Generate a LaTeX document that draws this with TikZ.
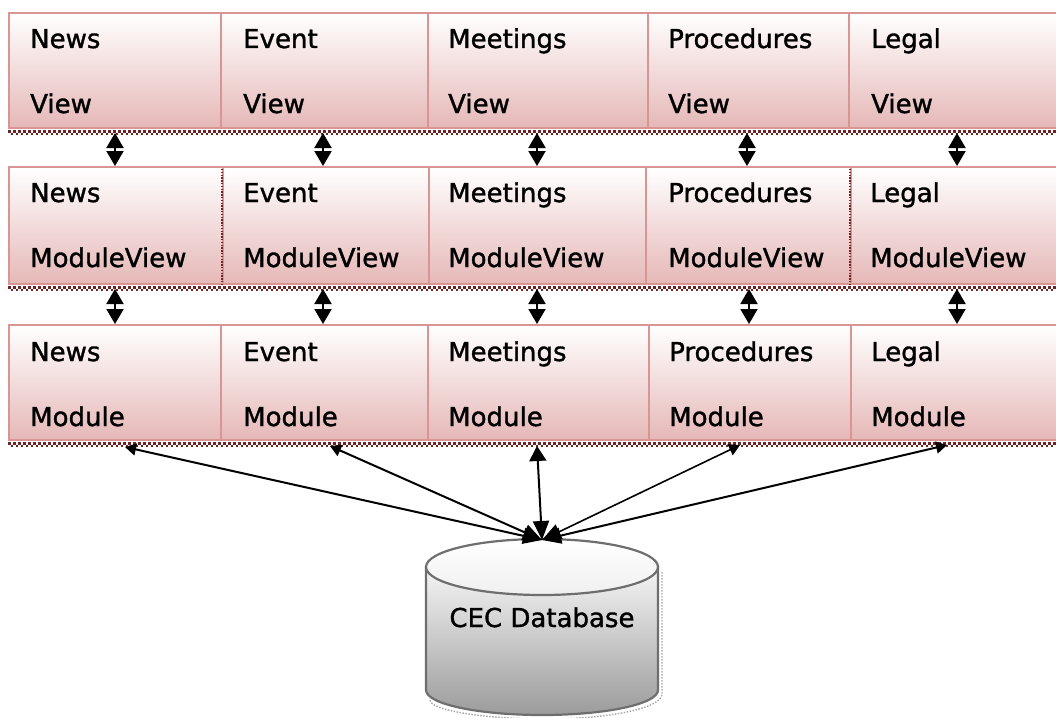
\documentclass[tikz,border=0pt]{standalone}
\usepackage{fontspec}
\setmainfont{DejaVu Sans}[RawFeature={embolden=1.3}]
\usetikzlibrary{arrows.meta,calc}
\definecolor{boxborder}{HTML}{D99594}
\definecolor{boxpink}{HTML}{E5B8B7}
\definecolor{shadowred}{HTML}{6E2424}
\definecolor{dbline}{HTML}{6E6E6E}
\tikzset{
  box/.style={draw=boxborder, line width=2pt, top color=white, bottom color=boxpink,
    middle color=boxpink!50, shading angle=0, rectangle, minimum height=115pt,
    inner sep=0pt, anchor=north west},
  lbl/.style={font=\fontsize{26}{30}\selectfont, anchor=base west, inner sep=0pt},
  checkA/.style={shadowred, line width=2.5pt, dash pattern=on 2.5pt off 2.5pt},
  checkB/.style={shadowred, line width=2.5pt, dash pattern=on 2.5pt off 2.5pt, dash phase=2.5pt},
  vlink/.style={line width=2pt, {Triangle[length=15pt,width=17pt]}-{Triangle[length=15pt,width=17pt]}},
  dblink/.style={line width=2pt, {Triangle[length=11pt,width=12pt]}-{Triangle[length=19pt,width=16pt]}},
}
\begin{document}
\begin{tikzpicture}[x=1pt,y=-1pt]
\useasboundingbox (0,0) rectangle (1056,717);
% Row 1
\node[box, minimum width=212pt] (v1) at (8,12) {};
\node[box, minimum width=207pt] (v2) at (220,12) {};
\node[box, minimum width=220pt] (v3) at (427,12) {};
\node[box, minimum width=201pt] (v4) at (647,12) {};
\node[box, minimum width=215pt] (v5) at (848,12) {};
% Row 2
\node[box, minimum width=214pt, minimum height=117pt] (mv1) at (8,166) {};
\node[box, minimum width=206pt, minimum height=117pt] (mv2) at (222,166) {};
\node[box, minimum width=217pt, minimum height=117pt] (mv3) at (428,166) {};
\node[box, minimum width=205pt, minimum height=117pt] (mv4) at (645,166) {};
\node[box, minimum width=213pt, minimum height=117pt] (mv5) at (850,166) {};
% Row 3
\node[box, minimum width=212pt] (m1) at (8,324) {};
\node[box, minimum width=207pt] (m2) at (220,324) {};
\node[box, minimum width=221pt] (m3) at (427,324) {};
\node[box, minimum width=202pt] (m4) at (648,324) {};
\node[box, minimum width=213pt] (m5) at (850,324) {};
% dotted left borders
\draw[shadowred, line width=1.4pt, dash pattern=on 1.4pt off 1.4pt] ($(mv2.north west)+(0,3)$) -- (mv2.south west);
\draw[shadowred, line width=1.4pt, dash pattern=on 1.4pt off 1.4pt] ($(mv5.north west)+(0,3)$) -- (mv5.south west);
% checkered shadows
\foreach \a/\b in {v1/v5, mv1/mv5, m1/m5}{
  \draw[checkA] ($(\a.south west)+(0,2.4)$) -- ($(\b.south east)+(0,2.4)$);
  \draw[checkB] ($(\a.south west)+(0,4.9)$) -- ($(\b.south east)+(0,4.9)$);
}
% labels
\node[lbl] (t11) at (30,48) {News};       \node[lbl] (t12) at (30,113) {View};
\node[lbl] (t21) at (243,48) {Event};     \node[lbl] (t22) at (243,113) {View};
\node[lbl] (t31) at (448,48) {Meetings};  \node[lbl] (t32) at (448,113) {View};
\node[lbl] (t41) at (668,48) {Procedures};\node[lbl] (t42) at (668,113) {View};
\node[lbl] (t51) at (871,48) {Legal};     \node[lbl] (t52) at (871,113) {View};
\node[lbl] (u11) at (30,202) {News};      \node[lbl] (u12) at (30,267) {ModuleView};
\node[lbl] (u21) at (243,202) {Event};    \node[lbl] (u22) at (243,267) {ModuleView};
\node[lbl] (u31) at (448,202) {Meetings}; \node[lbl] (u32) at (448,267) {ModuleView};
\node[lbl] (u41) at (668,202) {Procedures};\node[lbl] (u42) at (668,267) {ModuleView};
\node[lbl] (u51) at (870,202) {Legal};    \node[lbl] (u52) at (870,267) {ModuleView};
\node[lbl] (w11) at (30,361) {News};      \node[lbl] (w12) at (30,426) {Module};
\node[lbl] (w21) at (243,361) {Event};    \node[lbl] (w22) at (243,426) {Module};
\node[lbl] (w31) at (448,361) {Meetings}; \node[lbl] (w32) at (448,426) {Module};
\node[lbl] (w41) at (669,361) {Procedures};\node[lbl] (w42) at (669,426) {Module};
\node[lbl] (w51) at (871,361) {Legal};    \node[lbl] (w52) at (871,426) {Module};
% vertical links
\foreach \a/\b/\x in {v1/mv1/115, v2/mv2/323, v3/mv3/537, v4/mv4/747, v5/mv5/957,
                      mv1/m1/115, mv2/m2/323, mv3/m3/537, mv4/m4/749, mv5/m5/957}{
  \coordinate (xc) at (\x,0);
  \draw[vlink] ($(xc |- \a.south)+(0,4)$) -- (xc |- \b.north);
}
% database cylinder
\draw[gray!70, line width=1.4pt, dash pattern=on 1.5pt off 1.5pt]
  (662,572) -- (662,694) .. controls (662,708) and (610,719) .. (546,719)
  .. controls (482,719) and (430,710) .. (430,700);
\shade[top color=gray!8, bottom color=gray!78, draw=dbline, line width=2.2pt]
  (426,567) -- (426,690) .. controls (426,704) and (478,715) .. (542,715)
  .. controls (606,715) and (658,704) .. (658,690) -- (658,567) -- cycle;
\shade[top color=white, bottom color=gray!12, draw=dbline, line width=2.2pt]
  (542,567) ellipse [x radius=116, y radius=28];
\node[font=\fontsize{26}{30}\selectfont, anchor=base, inner sep=0pt] (db) at (542,627) {CEC Database};
\coordinate (dbtop) at (542,540);
% links to database
\coordinate (e1) at (125,447);
\coordinate (e2) at (330,446);
\coordinate (e3) at (537,446);
\coordinate (e4) at (740,445);
\coordinate (e5) at (947,445);
\draw[dblink] (e1) -- (dbtop);
\draw[dblink] (e2) -- (dbtop);
\draw[line width=2pt, {Triangle[length=15pt,width=17pt]}-{Triangle[length=19pt,width=16pt]}] (e3) -- (dbtop);
\draw[dblink, line width=1.6pt] (e4) -- (dbtop);
\draw[dblink] (e5) -- (dbtop);
\end{tikzpicture}
\end{document}
